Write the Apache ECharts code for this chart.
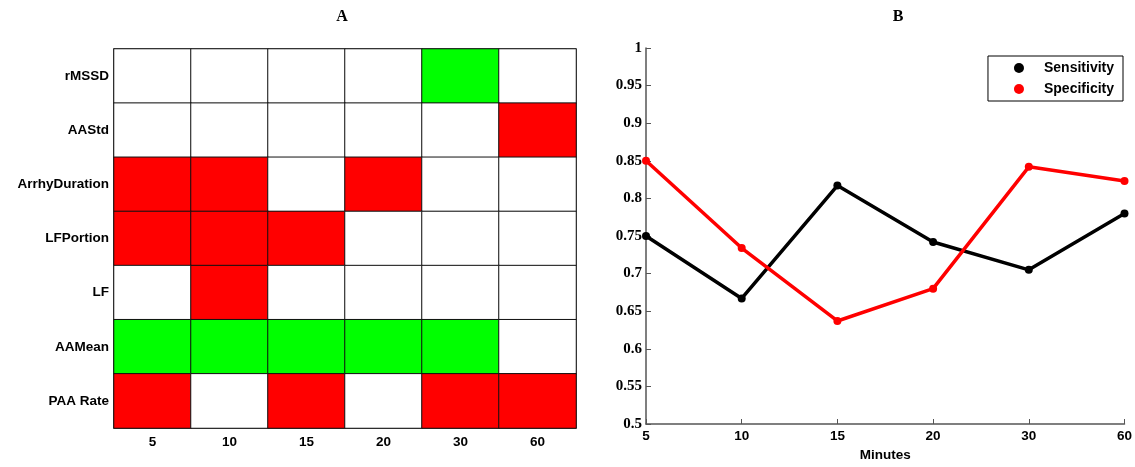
<!DOCTYPE html>
<html>
<head>
<meta charset="utf-8">
<script src="https://cdn.jsdelivr.net/npm/echarts@6/dist/echarts.min.js"></script>
<style>
html,body{margin:0;padding:0;background:#fff;}
#chart{width:1135px;height:467px;}
</style>
</head>
<body>
<div id="chart"></div>
<script>
// ---- Data ----
const minutes = ['5', '10', '15', '20', '30', '60'];
// Panel A features (top to bottom); code: 0 = none, 1 = red, 2 = green
const features = ['rMSSD', 'AAStd', 'ArrhyDuration', 'LFPortion', 'LF', 'AAMean', 'PAA Rate'];
const rMSSD        = [0, 0, 0, 0, 2, 0];
const AAStd        = [0, 0, 0, 0, 0, 1];
const ArrhyDuration= [1, 1, 0, 1, 0, 0];
const LFPortion    = [1, 1, 1, 0, 0, 0];
const LF           = [0, 1, 0, 0, 0, 0];
const AAMean       = [2, 2, 2, 2, 2, 0];
const PAARate      = [1, 0, 1, 0, 1, 1];
const featureRows = [rMSSD, AAStd, ArrhyDuration, LFPortion, LF, AAMean, PAARate];
// Panel B
const sensitivity = [0.75, 0.667, 0.817, 0.742, 0.705, 0.78];
const specificity = [0.85, 0.734, 0.637, 0.68, 0.842, 0.823];

// ---- Build ----
const yCats = features.slice().reverse();
const heatData = [];
featureRows.forEach((row, r) => {
  row.forEach((v, c) => {
    heatData.push([c, features.length - 1 - r, v]);
  });
});

const sansBold = {fontFamily: 'Liberation Sans', fontWeight: 'bold', color: '#000'};
const chart = echarts.init(document.getElementById('chart'), null, {renderer: 'canvas'});
chart.setOption({
  backgroundColor: '#fff',
  animation: false,
  graphic: [
    {type: 'text', x: 342, y: 17, style: {text: 'A', font: 'bold 16px "Liberation Serif"', fill: '#000', textAlign: 'center', textVerticalAlign: 'middle'}},
    {type: 'text', x: 898, y: 17, style: {text: 'B', font: 'bold 16px "Liberation Serif"', fill: '#000', textAlign: 'center', textVerticalAlign: 'middle'}}
  ],
  grid: [
    {left: 114, right: 559, top: 49, bottom: 39, show: true, borderColor: '#555', borderWidth: 1.5, backgroundColor: '#fff'},
    {left: 646, right: 8, top: 48, bottom: 40}
  ],
  visualMap: {
    type: 'piecewise', show: false, seriesIndex: 0, dimension: 2,
    pieces: [
      {value: 0, color: '#ffffff'},
      {value: 1, color: '#ff0000'},
      {value: 2, color: '#00ff00'}
    ]
  },
  legend: {
    data: ['Sensitivity', 'Specificity'],
    orient: 'vertical',
    right: 12, top: 56,
    icon: 'circle',
    itemWidth: 40, itemHeight: 10,
    itemGap: 7,
    padding: [5, 9, 5, 26],
    borderColor: '#000', borderWidth: 1, backgroundColor: '#fff',
    textStyle: Object.assign({fontSize: 14}, sansBold)
  },
  xAxis: [
    {type: 'category', gridIndex: 0, data: minutes,
     axisLine: {show: true, lineStyle: {color: '#555', width: 1.5}},
     axisTick: {show: false}, splitLine: {show: false},
     axisLabel: Object.assign({fontSize: 13.5, margin: 7}, sansBold)},
    {type: 'category', gridIndex: 1, data: minutes, boundaryGap: false,
     name: 'Minutes', nameLocation: 'middle', nameGap: 24,
     nameTextStyle: Object.assign({fontSize: 13.5}, sansBold),
     axisLine: {show: true, lineStyle: {color: '#555', width: 1.5}},
     axisTick: {show: true, inside: true, length: 5, lineStyle: {color: '#555'}},
     splitLine: {show: false},
     axisLabel: Object.assign({fontSize: 13.5, margin: 5}, sansBold)}
  ],
  yAxis: [
    {type: 'category', gridIndex: 0, data: yCats,
     axisLine: {show: true, lineStyle: {color: '#555', width: 1.5}},
     axisTick: {show: false}, splitLine: {show: false},
     axisLabel: Object.assign({fontSize: 13.5, margin: 5}, sansBold)},
    {type: 'value', gridIndex: 1, min: 0.5, max: 1, interval: 0.05,
     axisLine: {show: true, lineStyle: {color: '#555', width: 1.5}},
     axisTick: {show: true, inside: true, length: 5, lineStyle: {color: '#555'}},
     splitLine: {show: false},
     axisLabel: {fontSize: 15, fontFamily: 'Liberation Serif', fontWeight: 'bold', color: '#000', margin: 4,
       formatter: v => String(Number(v.toFixed(2)))}}
  ],
  series: [
    {type: 'heatmap', xAxisIndex: 0, yAxisIndex: 0, data: heatData,
     itemStyle: {borderColor: '#111', borderWidth: 1},
     emphasis: {disabled: true}},
    {name: 'Sensitivity', type: 'line', xAxisIndex: 1, yAxisIndex: 1, data: sensitivity,
     symbol: 'circle', symbolSize: 8, color: '#000',
     lineStyle: {color: '#000', width: 3.5}, itemStyle: {color: '#000'}},
    {name: 'Specificity', type: 'line', xAxisIndex: 1, yAxisIndex: 1, data: specificity,
     symbol: 'circle', symbolSize: 8, color: '#ff0000',
     lineStyle: {color: '#ff0000', width: 3.5}, itemStyle: {color: '#ff0000'}}
  ]
});
</script>
</body>
</html>
